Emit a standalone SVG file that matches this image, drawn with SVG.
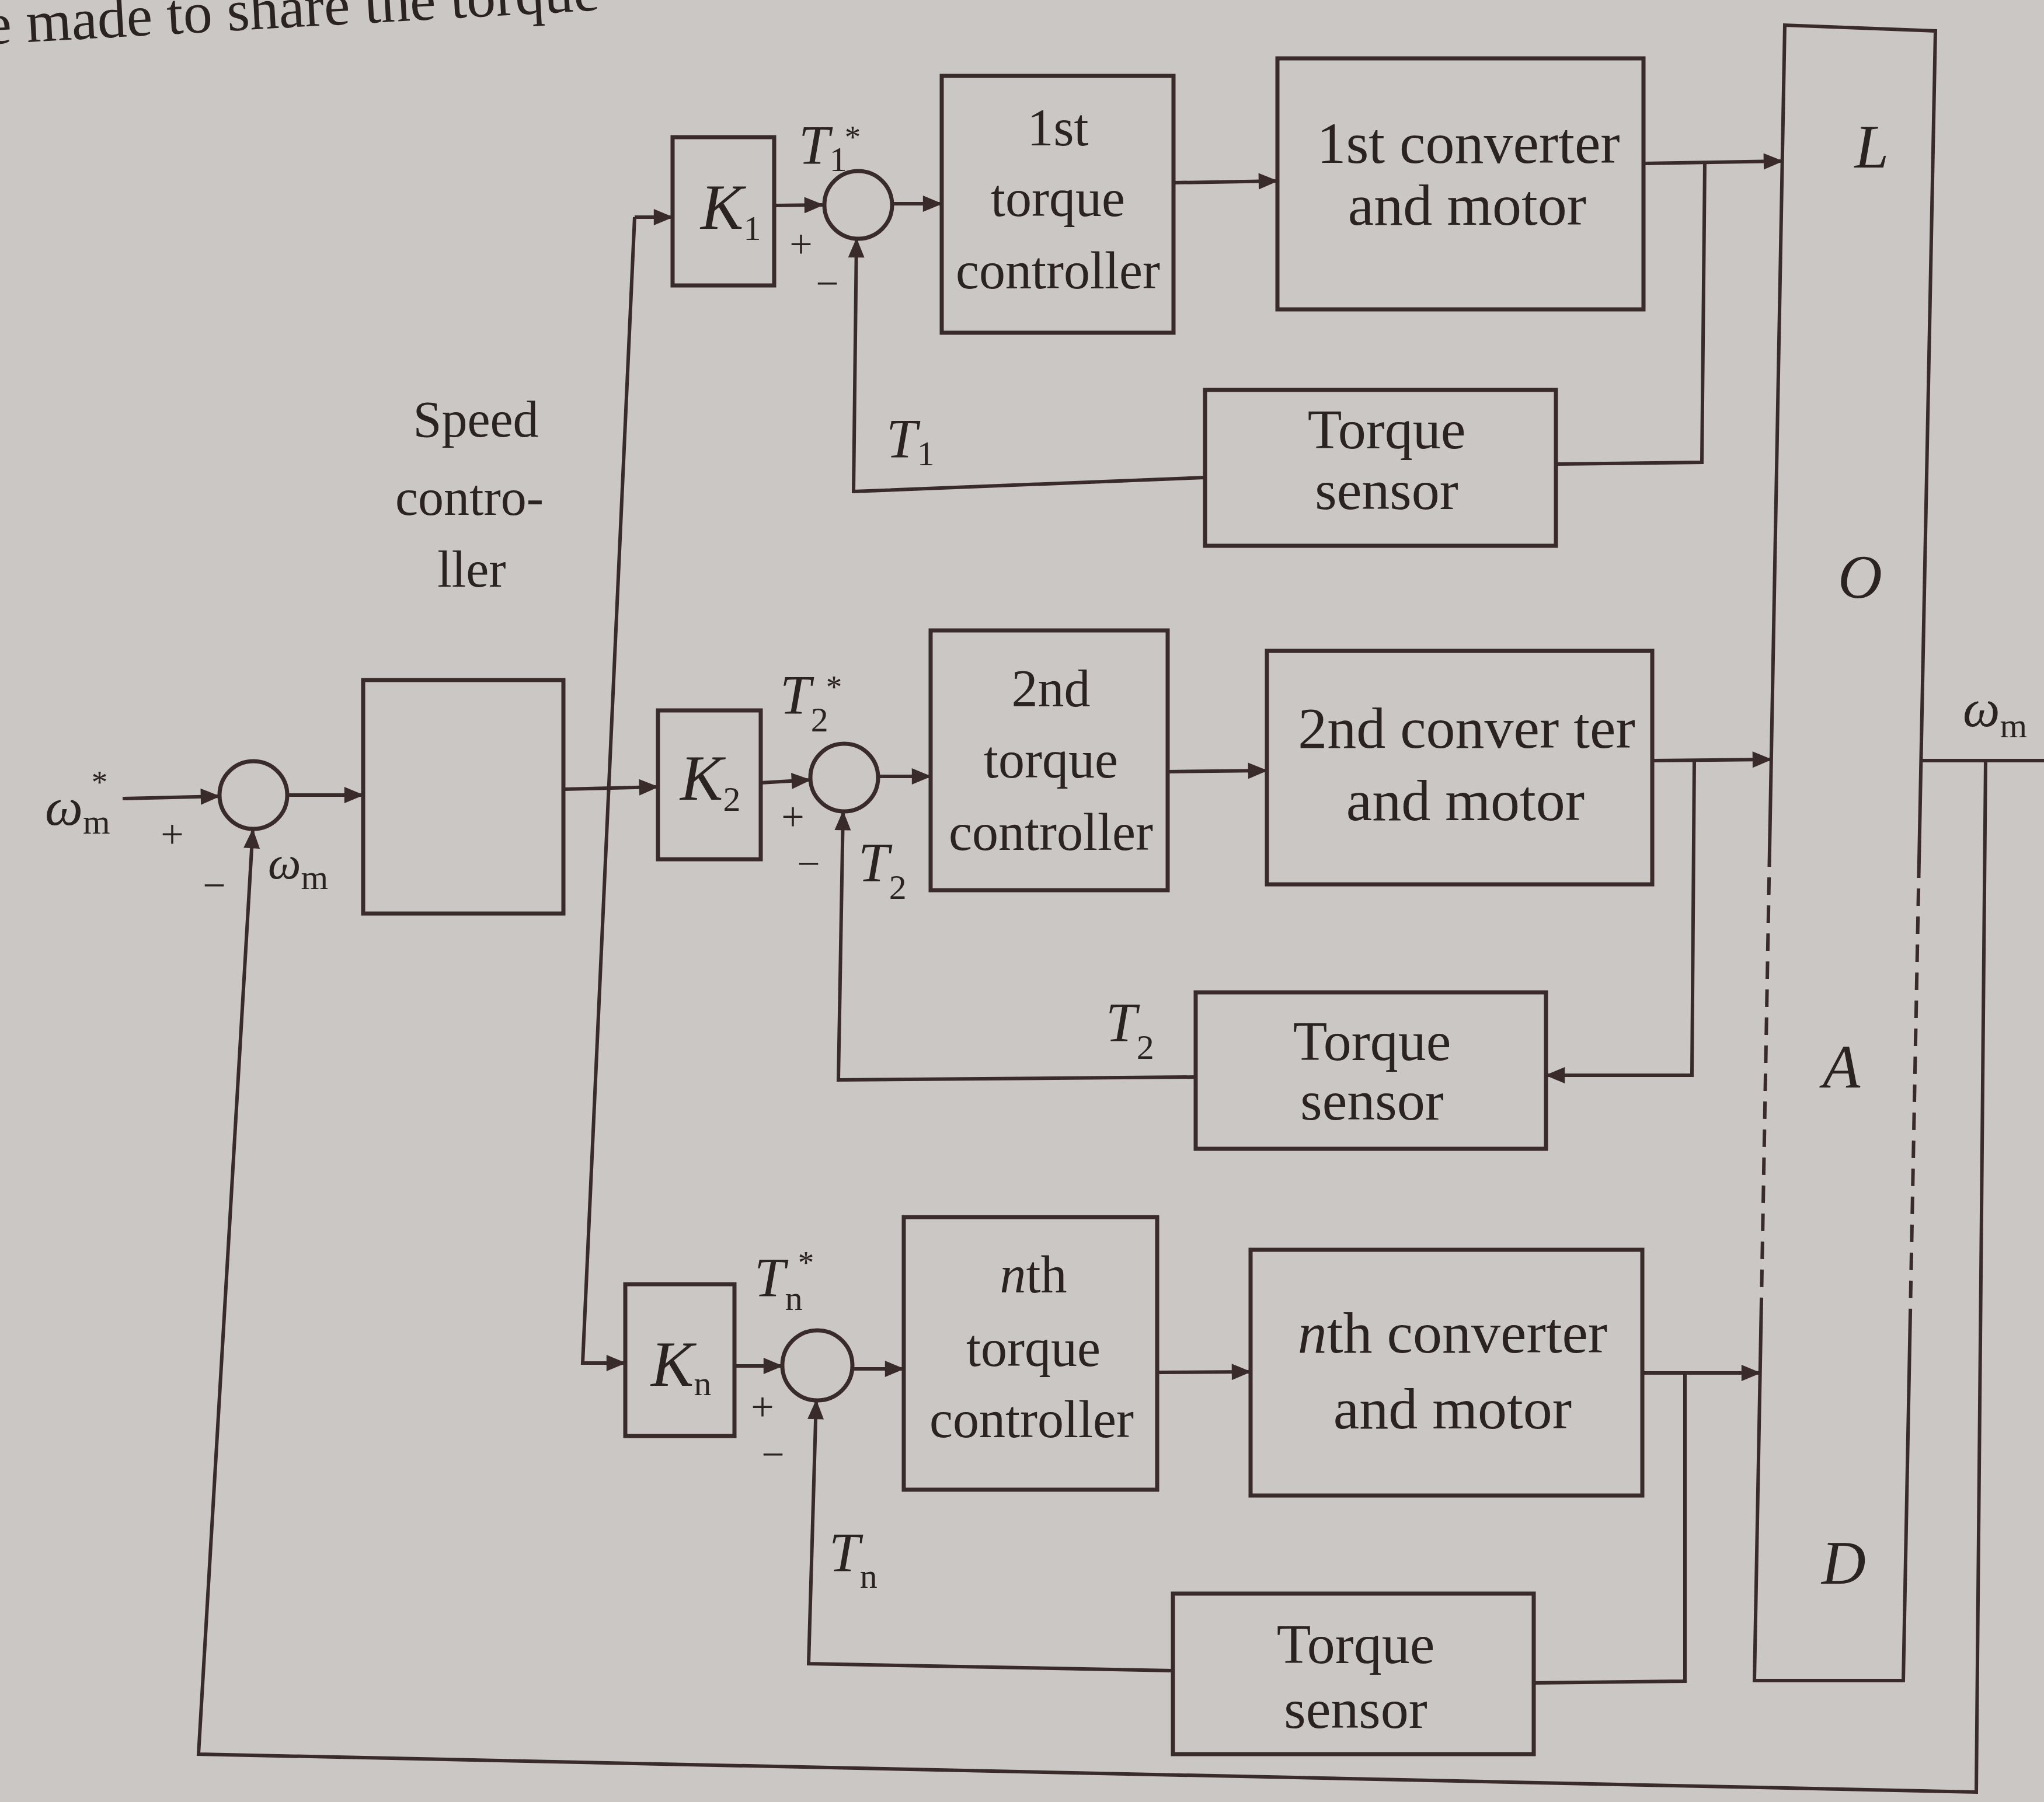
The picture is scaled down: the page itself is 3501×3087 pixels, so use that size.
<svg xmlns="http://www.w3.org/2000/svg" width="3501" height="3087" viewBox="0 0 3501 3087">
<defs>
<marker id="ar" viewBox="0 0 12 10" refX="11.5" refY="5" markerWidth="40" markerHeight="28" markerUnits="userSpaceOnUse" orient="auto">
<path d="M0,0 L12,5 L0,10 z" fill="#3a2b2b"/>
</marker>
<style>
.ln{fill:none;stroke:#3a2b2b;stroke-width:6;stroke-linejoin:miter}
.bx{fill:none;stroke:#3a2b2b;stroke-width:7}
.ar{marker-end:url(#ar)}
.t{font-family:"Liberation Serif","Times New Roman",serif;fill:#2b2222;text-anchor:middle}
.tc{font-size:90px}
.cv{font-size:100px}
.ts{font-size:96px}
.i{font-style:italic}
.s{font-family:"Liberation Serif",serif;fill:#2b2222;font-size:70px;text-anchor:middle}
.m{font-family:"Liberation Serif","Times New Roman",serif;font-style:italic;fill:#2b2222}
.sb{font-size:60px;font-style:normal}
.st{font-size:55px;font-style:normal}
.dash{stroke-dasharray:30 18}
</style>
</defs>
<rect x="0" y="0" width="3501" height="3087" fill="#cbc7c4"/>
<text class="m" style="font-style:normal" x="-23" y="72" font-size="100" transform="rotate(-3.2 46 72)">e made to share the torque</text>

<g id="connectors">
<path class="ln ar" d="M210,1368 L376,1364"/>
<path class="ln ar" d="M492,1362 L622,1362"/>
<path class="ln ar" d="M965,1352 L1127,1348"/>
<path class="ln ar" d="M1087,372 L1152,372"/>
<path class="ln ar" d="M1087,372 L998,2335 L1071,2335"/>
<path class="ln ar" d="M3401,1303 L3385,3070 L340,3005 L433,1421"/>
<path class="ln" d="M3291,1303 L3501,1303"/>
<path class="ln ar" d="M1326,352 L1410,351"/>
<path class="ln ar" d="M1528,349 L1613,349"/>
<path class="ln ar" d="M2010,313 L2188,310"/>
<path class="ln ar" d="M2815,280 L3053,276"/>
<path class="ln" d="M2920,279 L2915,792 L2665,795"/>
<path class="ln ar" d="M2064,818 L1462,842 L1467,409"/>
<path class="ln ar" d="M1303,1341 L1388,1336"/>
<path class="ln ar" d="M1504,1330 L1594,1330"/>
<path class="ln ar" d="M2000,1322 L2170,1320"/>
<path class="ln ar" d="M2830,1303 L3034,1301"/>
<path class="ln ar" d="M2902,1303 L2898,1842 L2648,1842"/>
<path class="ln ar" d="M2048,1845 L1436,1850 L1444,1390"/>
<path class="ln ar" d="M1258,2340 L1340,2340"/>
<path class="ln ar" d="M1460,2345 L1548,2345"/>
<path class="ln ar" d="M1982,2351 L2142,2350"/>
<path class="ln ar" d="M2813,2352 L3015,2352"/>
<path class="ln" d="M2886,2352 L2886,2880 L2627,2883"/>
<path class="ln ar" d="M2009,2862 L1385,2850 L1398,2399"/>
</g>

<g id="sum0">
<circle cx="434" cy="1362" r="58" class="bx"/>
<text class="m" x="77" y="1413" font-size="92">ω<tspan class="sb" dy="15">m</tspan><tspan class="st" dx="-32" dy="-70">*</tspan></text>
<text class="s" x="295" y="1453">+</text>
<text class="s" x="367" y="1540">−</text>
<text class="m" x="459" y="1505" font-size="80">ω<tspan class="sb" dy="18">m</tspan></text>
</g>

<g id="speed-controller">
<rect x="622" y="1165" width="343" height="400" class="bx"/>
<text class="t" font-size="88" x="815" y="748">Speed</text>
<text class="t" font-size="88" x="804" y="882">contro-</text>
<text class="t" font-size="88" x="808" y="1005">ller</text>
</g>

<g id="K1">
<rect x="1152" y="235" width="174" height="254" class="bx"/>
<text class="m" x="1200" y="392" font-size="110">K<tspan class="sb" dy="19">1</tspan></text>
</g>
<g id="sum1">
<circle cx="1470" cy="351" r="58" class="bx"/>
<text class="m" x="1368" y="281" font-size="95">T<tspan class="sb" dy="12">1</tspan><tspan class="st" dx="-4" dy="-40">*</tspan></text>
<text class="s" x="1372" y="442">+</text>
<text class="s" x="1417" y="509">−</text>
<text class="m" x="1518" y="784" font-size="95">T<tspan class="sb" dy="13">1</tspan></text>
</g>
<g id="torque-controller-1">
<rect x="1613" y="130" width="397" height="440" class="bx"/>
<text class="t tc" x="1812" y="249">1st</text>
<text class="t tc" x="1812" y="370">torque</text>
<text class="t tc" x="1812" y="494">controller</text>
</g>
<g id="converter-1">
<rect x="2188" y="100" width="627" height="430" class="bx"/>
<text class="t cv" x="2515" y="279">1st converter</text>
<text class="t cv" x="2513" y="385">and motor</text>
</g>
<g id="torque-sensor-1">
<rect x="2064" y="668" width="601" height="267" class="bx"/>
<text class="t ts" x="2375" y="768">Torque</text>
<text class="t ts" x="2375" y="872">sensor</text>
</g>

<g id="K2">
<rect x="1127" y="1217" width="176" height="255" class="bx"/>
<text class="m" x="1165" y="1370" font-size="110">K<tspan class="sb" dy="19">2</tspan></text>
</g>
<g id="sum2">
<circle cx="1446" cy="1332" r="58" class="bx"/>
<text class="m" x="1336" y="1223" font-size="95">T<tspan class="sb" dy="30">2</tspan><tspan class="st" dx="-4" dy="-58">*</tspan></text>
<text class="s" x="1358" y="1423">+</text>
<text class="s" x="1385" y="1503">−</text>
<text class="m" x="1470" y="1510" font-size="95">T<tspan class="sb" dy="30">2</tspan></text>
<text class="m" x="1894" y="1784" font-size="95">T<tspan class="sb" dy="30">2</tspan></text>
</g>
<g id="torque-controller-2">
<rect x="1594" y="1080" width="406" height="445" class="bx"/>
<text class="t tc" x="1800" y="1210">2nd</text>
<text class="t tc" x="1800" y="1332">torque</text>
<text class="t tc" x="1800" y="1456">controller</text>
</g>
<g id="converter-2">
<rect x="2170" y="1115" width="660" height="400" class="bx"/>
<text class="t cv" x="2512" y="1281">2nd conver ter</text>
<text class="t cv" x="2510" y="1405">and motor</text>
</g>
<g id="torque-sensor-2">
<rect x="2048" y="1700" width="600" height="268" class="bx"/>
<text class="t ts" x="2350" y="1816">Torque</text>
<text class="t ts" x="2350" y="1918">sensor</text>
</g>

<g id="Kn">
<rect x="1071" y="2200" width="187" height="260" class="bx"/>
<text class="m" x="1115" y="2374" font-size="110">K<tspan class="sb" dy="16">n</tspan></text>
</g>
<g id="sumn">
<circle cx="1400" cy="2339" r="60" class="bx"/>
<text class="m" x="1292" y="2221" font-size="95">T<tspan class="sb" dy="23">n</tspan><tspan class="st" dx="-8" dy="-63">*</tspan></text>
<text class="s" x="1306" y="2434">+</text>
<text class="s" x="1324" y="2515">−</text>
<text class="m" x="1420" y="2692" font-size="95">T<tspan class="sb" dy="28">n</tspan></text>
</g>
<g id="torque-controller-n">
<rect x="1548" y="2085" width="434" height="467" class="bx"/>
<text class="t tc" x="1770" y="2214"><tspan font-style="italic">n</tspan>th</text>
<text class="t tc" x="1770" y="2340">torque</text>
<text class="t tc" x="1767" y="2462">controller</text>
</g>
<g id="converter-n">
<rect x="2142" y="2141" width="671" height="421" class="bx"/>
<text class="t cv" x="2488" y="2317"><tspan font-style="italic">n</tspan>th converter</text>
<text class="t cv" x="2488" y="2447">and motor</text>
</g>
<g id="torque-sensor-n">
<rect x="2009" y="2730" width="618" height="275" class="bx"/>
<text class="t ts" x="2322" y="2849">Torque</text>
<text class="t ts" x="2322" y="2960">sensor</text>
</g>

<g id="load">
<path class="ln" d="M3031,1455 L3057,43 L3315,53 L3287,1474"/>
<path class="ln dash" d="M3031,1455 L3017,2228"/>
<path class="ln dash" d="M3287,1474 L3272,2250"/>
<path class="ln" d="M3017,2228 L3005,2879 L3260,2879 L3272,2250"/>
<text class="t i" font-size="105" x="3206" y="287">L</text>
<text class="t i" font-size="105" x="3186" y="1024">O</text>
<text class="t i" font-size="105" x="3154" y="1863">A</text>
<text class="t i" font-size="105" x="3158" y="2713">D</text>
</g>

<g id="output-label">
<text class="m" x="3362" y="1244" font-size="90">ω<tspan class="sb" dy="19">m</tspan></text>
</g>
</svg>
